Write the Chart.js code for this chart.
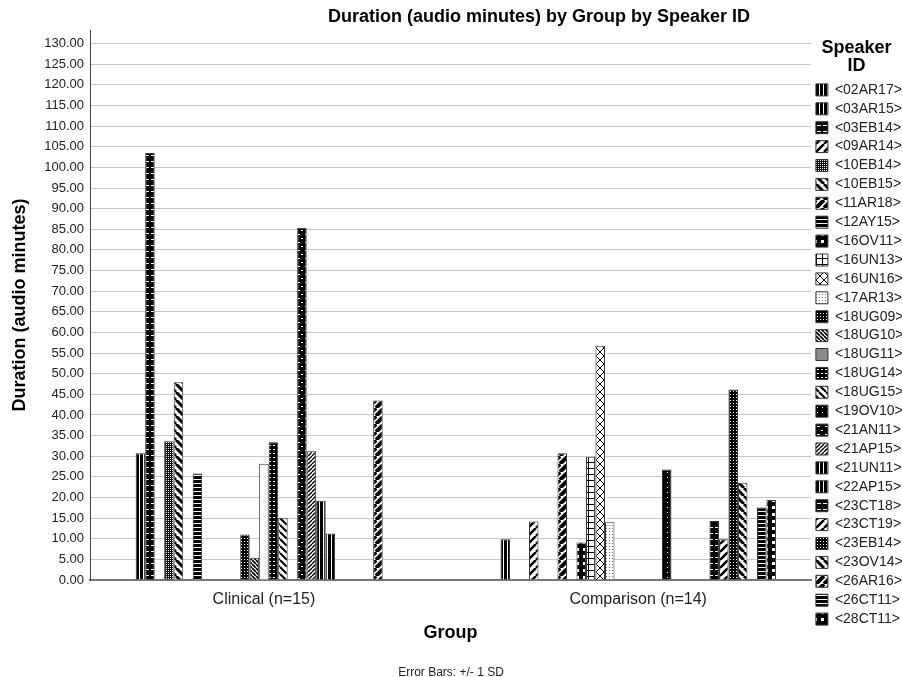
<!DOCTYPE html>
<html>
<head>
<meta charset="utf-8">
<script src="https://cdn.jsdelivr.net/npm/chart.js@4.4.1/dist/chart.umd.min.js"></script>
<style>
  html, body { margin: 0; padding: 0; background: #fff; }
  #wrap { width: 902px; height: 677px; }
</style>
</head>
<body>
<div id="wrap"><canvas id="chart" width="902" height="677"></canvas></div>
<script>
// data
const groups = ['Clinical (n=15)', 'Comparison (n=14)'];
const speakers = ['<02AR17>', '<03AR15>', '<03EB14>', '<09AR14>', '<10EB14>', '<10EB15>', '<11AR18>', '<12AY15>',
  '<16OV11>', '<16UN13>', '<16UN16>', '<17AR13>', '<18UG09>', '<18UG10>', '<18UG11>', '<18UG14>', '<18UG15>',
  '<19OV10>', '<21AN11>', '<21AP15>', '<21UN11>', '<22AP15>', '<23CT18>', '<23CT19>', '<23EB14>', '<23OV14>',
  '<26AR16>', '<26CT11>', '<28CT11>'];
const clinical = [null, 30.7, 103.5, null, 33.6, 47.9, null, 25.8,
  null, null, null, null, 11.0, 5.4, 28.2, 33.4, 15.1,
  null, 85.4, 31.2, 19.2, 11.3, null, null, null, null,
  43.5, null, null];
const comparison = [9.9, null, null, 14.2, null, null, 30.7, null,
  9.1, 29.9, 56.8, 14.0, null, null, null, null, null,
  26.8, null, null, null, null, 14.3, 9.9, 46.2, 23.6,
  null, 17.6, 19.4];
const yMax = 133.3;
const yStep = 5;

const chartTitle = 'Duration (audio minutes) by Group by Speaker ID';
const FONT = '"Liberation Sans", Arial, sans-serif';

// --- fill patterns (black & white, like the SPSS output)
function tile(n, draw) {
  const c = document.createElement('canvas');
  c.width = n; c.height = n;
  const g = c.getContext('2d');
  draw(g, n);
  return g.createPattern(c, 'repeat');
}
function solid(g, n, col) { g.fillStyle = col; g.fillRect(0, 0, n, n); }
function diag(g, n, w, dir) {
  g.strokeStyle = '#000';
  g.lineWidth = w;
  g.beginPath();
  for (const o of [-n, 0, n]) {
    if (dir > 0) { g.moveTo(o, n); g.lineTo(o + n, 0); }
    else { g.moveTo(o, 0); g.lineTo(o + n, n); }
  }
  g.stroke();
}
const P = {
  vbars: () => tile(4, g => { solid(g, 4, '#000'); g.fillStyle = '#fff'; g.fillRect(3, 0, 1, 4); }),
  bcross: () => tile(6, g => { solid(g, 6, '#000'); g.fillStyle = '#fff'; g.fillRect(1, 5, 4, 1); }),
  fdiag: () => tile(8, g => { solid(g, 8, '#fff'); diag(g, 8, 2.5, 1); }),
  fdiagBold: () => tile(8, g => { solid(g, 8, '#fff'); diag(g, 8, 4, 1); }),
  fdiagFine: () => tile(4, g => { solid(g, 4, '#fff'); diag(g, 4, 1.4, 1); }),
  bdiag: () => tile(8, g => { solid(g, 8, '#fff'); diag(g, 8, 3, -1); }),
  bdiagThin: () => tile(7, g => { solid(g, 7, '#fff'); diag(g, 7, 2, -1); }),
  bdiagDense: () => tile(4, g => { solid(g, 4, '#fff'); diag(g, 4, 1.8, -1); }),
  dotsDark: () => tile(2, g => { solid(g, 2, '#000'); g.fillStyle = '#fff'; g.fillRect(0, 0, 1, 1); }),
  dense: () => tile(3, g => { solid(g, 3, '#000'); g.fillStyle = '#fff'; g.fillRect(1, 1, 1, 1); }),
  hlines: () => tile(4, g => { solid(g, 4, '#000'); g.fillStyle = '#fff'; g.fillRect(0, 3, 4, 1); }),
  bsquares: () => tile(7, g => { solid(g, 7, '#000'); g.fillStyle = '#fff'; g.fillRect(2, 2, 3, 3); }),
  grid: () => tile(6, g => { solid(g, 6, '#fff'); g.fillStyle = '#000'; g.fillRect(0, 0, 6, 1); g.fillRect(0, 0, 1, 6); }),
  xhatch: () => tile(8, g => { solid(g, 8, '#fff'); diag(g, 8, 1, 1); diag(g, 8, 1, -1); }),
  light: () => tile(3, g => { solid(g, 3, '#fff'); g.fillStyle = '#777'; g.fillRect(0, 0, 1, 1); }),
  wsq: () => tile(4, g => { solid(g, 4, '#000'); g.fillStyle = '#fff'; g.fillRect(1, 1, 2, 1); }),
  bdots: () => tile(5, g => { solid(g, 5, '#000'); g.fillStyle = '#fff'; g.fillRect(2, 2, 1, 1); }),
  bplus: () => tile(8, g => { solid(g, 8, '#000'); g.fillStyle = '#fff'; g.fillRect(1, 2, 3, 1); g.fillRect(5, 6, 2, 1); })
};
const patternOf = ['vbars', 'vbars', 'bcross', 'fdiag', 'dotsDark', 'bdiag', 'fdiagBold', 'hlines',
  'bsquares', 'grid', 'xhatch', 'light', 'dense', 'bdiagDense', null, 'wsq', 'bdiagThin',
  'bdots', 'bplus', 'fdiagFine', 'vbars', 'vbars', 'bcross', 'fdiag', 'dense', 'bdiag',
  'fdiagBold', 'hlines', 'bsquares'];
const fills = patternOf.map(k => k ? P[k]() : '#ffffff');
const legendOverride = { 14: '#8c8c8c' };

const titlePlugin = {
  id: 'spssTitle',
  afterDraw(chart) {
    const c = chart.ctx;
    c.save();
    c.font = 'bold 18px ' + FONT;
    c.fillStyle = '#000';
    c.textAlign = 'center';
    c.textBaseline = 'middle';
    c.fillText(chartTitle, 539, 17);
    c.restore();
  }
};

Chart.defaults.font.family = FONT;

new Chart(document.getElementById('chart'), {
  type: 'bar',
  data: {
    datasets: speakers.map((s, i) => ({
      label: s,
      data: groups.map((g, j) => ({ x: j, y: (j === 0 ? clinical : comparison)[i] })),
      backgroundColor: fills[i],
      borderColor: '#333',
      borderWidth: 1,
      categoryPercentage: 0.736,
      barPercentage: 1
    }))
  },
  options: {
    responsive: false,
    animation: false,
    events: [],
    layout: { padding: { top: 30, right: 0, bottom: 0, left: 0 } },
    scales: {
      x: {
        type: 'linear',
        min: -0.4647,
        max: 1.4616,
        offset: false,
        grid: { display: false, drawTicks: false },
        border: { display: true, color: '#777', width: 2 },
        afterBuildTicks: s => { s.ticks = groups.map((g, i) => ({ value: i })); },
        ticks: {
          callback: v => groups[v],
          font: { size: 16 },
          color: '#222',
          padding: 10.4,
          maxRotation: 0,
          autoSkip: false,
          includeBounds: false
        },
        title: { display: true, text: 'Group', font: { size: 18, weight: 'bold' }, color: '#000', padding: { top: 0, bottom: 23.6 } },
        afterFit: s => { s.height = 87.4; }
      },
      y: {
        min: 0,
        max: yMax,
        grid: { color: '#c8c8c8', drawTicks: false },
        border: { display: true, color: '#444', width: 1 },
        ticks: {
          stepSize: yStep,
          includeBounds: false,
          callback: v => v.toFixed(2),
          font: { size: 13 },
          color: '#222',
          padding: 6
        },
        title: { display: true, text: 'Duration (audio minutes)', font: { size: 18, weight: 'bold' }, color: '#000', padding: { top: 9.2, bottom: 0 } },
        afterFit: s => { s.width = 90; }
      }
    },
    plugins: {
      tooltip: { enabled: false },
      legend: {
        position: 'right',
        align: 'start',
        maxWidth: 91,
        labels: {
          boxWidth: 12,
          boxHeight: 12,
          padding: 4.9,
          font: { size: 14 },
          color: '#222',
          generateLabels(chart) {
            const items = Chart.defaults.plugins.legend.labels.generateLabels(chart);
            items.forEach((it, i) => { if (legendOverride[i]) it.fillStyle = legendOverride[i]; });
            return items;
          }
        },
        title: {
          display: true,
          text: ['Speaker', 'ID'],
          position: 'center',
          color: '#000',
          font: { size: 18, weight: 'bold', lineHeight: 1 },
          padding: { top: 9, bottom: 21 }
        }
      },
      subtitle: {
        display: true,
        position: 'bottom',
        text: 'Error Bars: +/- 1 SD',
        color: '#222',
        font: { size: 12, lineHeight: 0.8 },
        padding: 0
      }
    }
  },
  plugins: [titlePlugin]
});
</script>
</body>
</html>
